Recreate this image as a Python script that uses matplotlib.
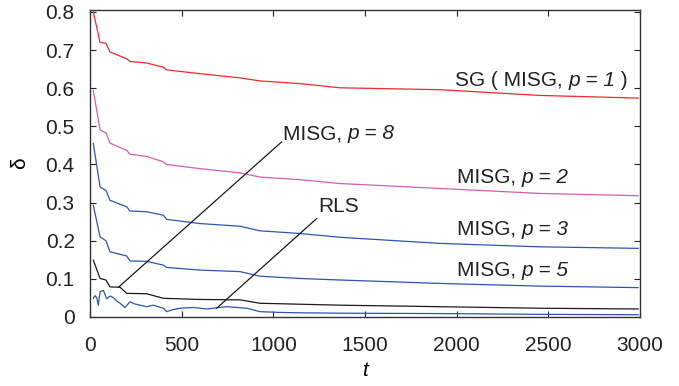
import numpy as np
import matplotlib
matplotlib.use("Agg")
import matplotlib.pyplot as plt

plt.rcParams['font.family'] = ['Liberation Sans', 'DejaVu Sans']
plt.rcParams['mathtext.fontset'] = 'custom'
plt.rcParams['mathtext.it'] = 'Liberation Sans:italic'
plt.rcParams['mathtext.rm'] = 'Liberation Sans'

# values
t_sg = [18, 55, 87, 109, 200, 218, 309, 400, 418, 600, 818, 927, 1145, 1364, 1909, 2455, 2990]
sg = [0.80, 0.72, 0.718, 0.695, 0.677, 0.670, 0.666, 0.655, 0.648, 0.638, 0.627, 0.619, 0.612, 0.601, 0.596, 0.581, 0.574]

t_p2 = [18, 55, 87, 109, 200, 218, 309, 400, 418, 600, 818, 927, 1145, 1364, 1909, 2455, 2990]
p2 = [0.594, 0.49, 0.483, 0.456, 0.437, 0.427, 0.421, 0.407, 0.400, 0.389, 0.378, 0.367, 0.360, 0.350, 0.337, 0.324, 0.318]

t_p3 = [18, 55, 87, 109, 200, 218, 309, 400, 418, 600, 818, 927, 1145, 1364, 1909, 2455, 2990]
p3 = [0.455, 0.341, 0.332, 0.306, 0.289, 0.278, 0.276, 0.267, 0.256, 0.245, 0.238, 0.226, 0.219, 0.209, 0.193, 0.184, 0.180]

t_p5 = [18, 55, 87, 109, 200, 218, 309, 400, 418, 600, 818, 927, 1145, 1364, 1909, 2455, 2990]
p5 = [0.293, 0.21, 0.200, 0.171, 0.160, 0.147, 0.146, 0.136, 0.130, 0.123, 0.119, 0.107, 0.101, 0.097, 0.088, 0.081, 0.077]

t_p8 = [18, 55, 87, 109, 164, 200, 309, 400, 600, 818, 927, 1364, 1909, 2455, 2990]
p8 = [0.149, 0.101, 0.097, 0.079, 0.078, 0.062, 0.061, 0.049, 0.046, 0.045, 0.036, 0.031, 0.027, 0.023, 0.021]

t_rls = [18, 27, 37, 45, 55, 73, 91, 110, 127, 145, 164, 191, 218, 245, 273, 309, 345, 400, 418, 450,
         491, 564, 636, 745, 855, 927, 1036, 1145, 1364, 1909, 2455, 2990]
rls = [0.049, 0.056, 0.050, 0.031, 0.066, 0.070, 0.048, 0.055, 0.051, 0.042, 0.036, 0.025, 0.040, 0.034,
       0.031, 0.027, 0.031, 0.023, 0.014, 0.019, 0.023, 0.025, 0.021, 0.027, 0.023, 0.014, 0.012, 0.011,
       0.010, 0.009, 0.007, 0.006]

fig = plt.figure(figsize=(6.79, 3.86), dpi=100)
ax = fig.add_axes([90 / 679, 1 - 317 / 386, 550 / 679, 307 / 386])

lw = 0.9
ax.plot(t_sg, sg, color='#ee2a2a', lw=lw)
ax.plot(t_p2, p2, color='#d65cb0', lw=lw)
ax.plot(t_p3, p3, color='#2f55b0', lw=lw)
ax.plot(t_p5, p5, color='#2f55b0', lw=lw)
ax.plot(t_p8, p8, color='#1a1a1a', lw=lw)
ax.plot(t_rls, rls, color='#2f55b0', lw=lw)

fs = 15
tc = '#222222'


def label(x, y, head, ital, tail=''):
    # upright part, then the italic "p = n" part right after it
    t1 = ax.text(x, y, head, fontsize=fs, va='center', color=tc)
    t2 = ax.annotate(ital, xy=(1, 0.5), xycoords=t1, va='center', ha='left',
                     fontsize=fs, fontstyle='italic', color=tc)
    if tail:
        ax.annotate(tail, xy=(1, 0.5), xycoords=t2, va='center', ha='left',
                    fontsize=fs, color=tc)


label(1991, 0.62, 'SG ( MISG, ', 'p = 1', ' )')
label(2000, 0.367, 'MISG, ', 'p = 2')
label(2000, 0.23, 'MISG, ', 'p = 3')
label(2000, 0.123, 'MISG, ', 'p = 5')

ax.plot([155, 1045], [0.078, 0.459], color='#1a1a1a', lw=0.9)
label(1053, 0.481, 'MISG, ', 'p = 8')
ax.plot([691, 1236], [0.023, 0.258], color='#1a1a1a', lw=0.9)
ax.text(1245, 0.29, 'RLS', fontsize=fs, va='center', color=tc)

ax.set_xlim(0, 3000)
ax.set_ylim(0, 0.805)
ax.set_xticks([0, 500, 1000, 1500, 2000, 2500, 3000])
ax.set_yticks([0, 0.1, 0.2, 0.3, 0.4, 0.5, 0.6, 0.7, 0.8])
ax.set_yticklabels(['0', '0.1', '0.2', '0.3', '0.4', '0.5', '0.6', '0.7', '0.8'])
ax.tick_params(direction='in', top=True, right=True, length=4, labelsize=15,
               colors=tc)
ax.tick_params(axis='x', pad=14)
ax.tick_params(axis='y', pad=11)
for s in ax.spines.values():
    s.set_linewidth(1.0)
    s.set_color('#333333')

ax.set_xlabel('t', fontsize=15, fontstyle='italic', labelpad=4)
ax.set_ylabel('δ', fontsize=15, labelpad=12)

fig.savefig('out.png', dpi=100)
